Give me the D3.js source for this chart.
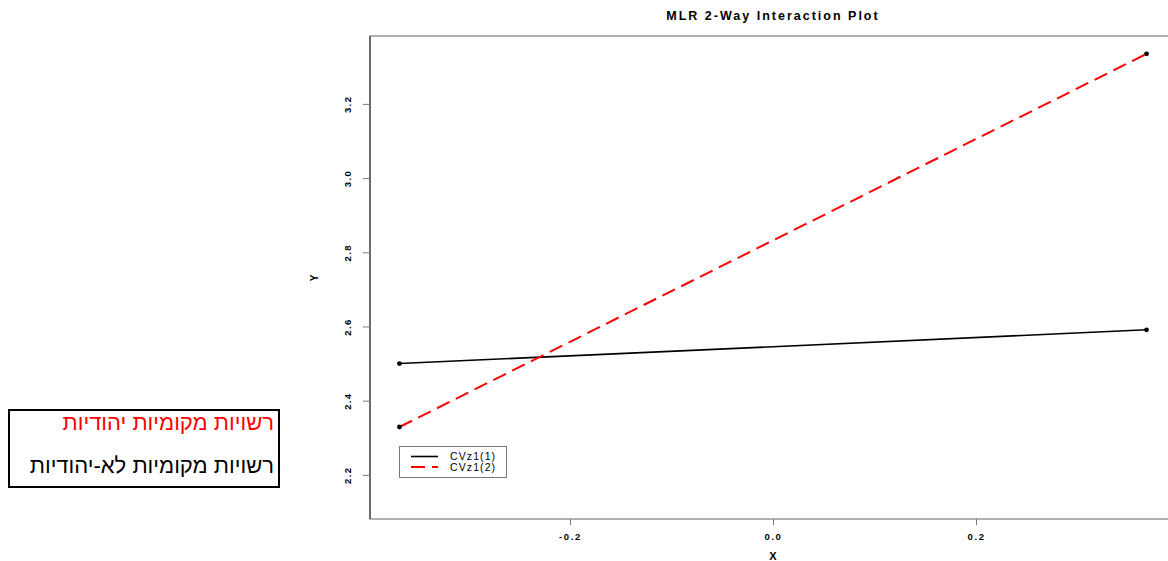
<!DOCTYPE html>
<html><head><meta charset="utf-8">
<script src="https://cdn.jsdelivr.net/npm/d3@7"></script>
<style>body{margin:0;background:#fff;} svg{display:block;font-family:"Liberation Sans",Arial,sans-serif;}</style>
</head><body>
<svg id="c" width="1168" height="561"></svg>
<script>
const xValues = [-0.368, 0.368];
const seriesNames = ["CVz1(1)", "CVz1(2)"];
const seriesColors = ["#000000", "#ff0000"];
const series1 = [2.50, 2.591];
const series2 = [2.329, 3.335];
const xTicks = [-0.2, 0.0, 0.2];
const yTicks = [2.2, 2.4, 2.6, 2.8, 3.0, 3.2];
const hebrewLabels = ["רשויות מקומיות יהודיות", "רשויות מקומיות לא-יהודיות"];
const hebrewColors = ["#ff0000", "#000000"];

const svg = d3.select("#c");
const x = d3.scaleLinear().domain([-0.397, 0.397]).range([370, 1176]);
const y = d3.scaleLinear().domain([2.081, 3.383]).range([519, 36]);

// frame
svg.append("rect").attr("x",370).attr("y",36).attr("width",806).attr("height",483)
  .attr("fill","none").attr("stroke","#888").attr("stroke-width",1.3);
svg.append("line").attr("x1",370).attr("x2",370).attr("y1",36).attr("y2",519)
  .attr("stroke","#555").attr("stroke-width",1.5);

const fmt = d => d3.format(".1f")(d).replace("−","-");

// axes
const xa = svg.append("g").attr("transform","translate(0,519)")
  .call(d3.axisBottom(x).tickValues(xTicks).tickSize(6).tickFormat(fmt));
xa.select(".domain").remove();
xa.selectAll("line").attr("stroke","#777");
xa.selectAll("text").attr("font-size",9.5).attr("font-weight","bold").attr("fill","#000")
  .attr("y",21).attr("dy",0).attr("letter-spacing",1.6);

const ya = svg.append("g").attr("transform","translate(370,0)")
  .call(d3.axisLeft(y).tickValues(yTicks).tickSize(7).tickFormat(fmt));
ya.select(".domain").remove();
ya.selectAll("line").attr("stroke","#777");
ya.selectAll("text").attr("font-size",9.5).attr("font-weight","bold").attr("fill","#000")
  .attr("text-anchor","middle").attr("x",0).attr("dy",0).attr("letter-spacing",1.4)
  .attr("transform","translate(-19,0) rotate(-90)");

// labels
svg.append("text").attr("x",773).attr("y",20).attr("text-anchor","middle")
  .attr("font-size",12.5).attr("font-weight","bold").attr("letter-spacing",2)
  .text("MLR 2-Way Interaction Plot");
svg.append("text").attr("x",773).attr("y",560).attr("text-anchor","middle")
  .attr("font-size",11).attr("font-weight","bold").text("X");
svg.append("text").attr("transform","translate(318,278) rotate(-90)").attr("text-anchor","middle")
  .attr("font-size",10).attr("font-weight","bold").text("Y");

// lines
const data = [series1, series2];
const line = d3.line().x((d,i)=>x(xValues[i])).y(d=>y(d));
data.forEach((s,k)=>{
  svg.append("path").attr("d", line(s)).attr("fill","none")
    .attr("stroke", seriesColors[k]).attr("stroke-width", k===0?1.6:2)
    .attr("stroke-dasharray", k===0?null:"14,7");
  s.forEach((v,i)=>svg.append("circle").attr("cx",x(xValues[i])).attr("cy",y(v)).attr("r",2.4).attr("fill","#000"));
});

// legend
svg.append("rect").attr("x",399.5).attr("y",446.5).attr("width",107).attr("height",31)
  .attr("fill","#fff").attr("stroke","#777");
seriesNames.forEach((n,k)=>{
  const ly = 456.5 + k*10.5;
  svg.append("line").attr("x1",411).attr("x2",438).attr("y1",ly).attr("y2",ly)
    .attr("stroke",seriesColors[k]).attr("stroke-width",k===0?1.6:2)
    .attr("stroke-dasharray",k===0?null:"14,7");
  svg.append("text").attr("x",450).attr("y",ly+3.5).attr("font-size",10.5)
    .attr("letter-spacing",1.1).attr("fill","#000").text(n);
});

// hebrew box
svg.append("rect").attr("x",9).attr("y",410).attr("width",270).attr("height",77)
  .attr("fill","#fff").attr("stroke","#000").attr("stroke-width",2);
hebrewLabels.forEach((t,k)=>{
  svg.append("text").attr("x",274).attr("y",430 + k*43).attr("text-anchor","end")
    .attr("font-size",22).attr("fill",hebrewColors[k]).text(t);
});
</script>
</body></html>
